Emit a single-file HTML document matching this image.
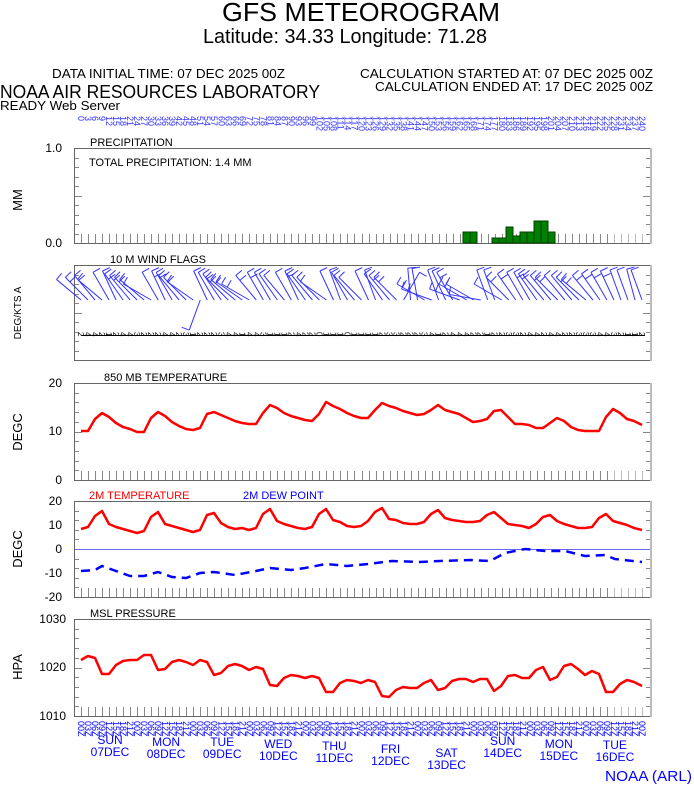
<!DOCTYPE html>
<html><head><meta charset="utf-8"><style>
html,body{margin:0;padding:0;background:#fff;}
svg{display:block;font-family:"Liberation Sans",sans-serif;}
</style></head><body>
<svg id="s" width="694" height="788" viewBox="0 0 694 788" xmlns="http://www.w3.org/2000/svg">
<rect width="694" height="788" fill="#fff"/>
<text x="222" y="21" font-size="26" textLength="278" lengthAdjust="spacingAndGlyphs">GFS METEOROGRAM</text>
<text x="203" y="43" font-size="20" textLength="284" lengthAdjust="spacingAndGlyphs">Latitude: 34.33 Longitude:  71.28</text>
<text x="52" y="78" font-size="13" textLength="233" lengthAdjust="spacingAndGlyphs">DATA INITIAL TIME: 07 DEC 2025 00Z</text>
<text x="360" y="78" font-size="13" textLength="293" lengthAdjust="spacingAndGlyphs">CALCULATION STARTED AT: 07 DEC 2025 00Z</text>
<text x="375" y="91" font-size="13" textLength="278" lengthAdjust="spacingAndGlyphs">CALCULATION ENDED AT: 17 DEC 2025 00Z</text>
<text x="0" y="98" font-size="18" textLength="320" lengthAdjust="spacingAndGlyphs">NOAA AIR RESOURCES LABORATORY</text>
<text x="0" y="110" font-size="13" textLength="120" lengthAdjust="spacingAndGlyphs">READY Web Server</text>
<text x="605" y="781" font-size="15" fill="#0000ff" textLength="87" lengthAdjust="spacingAndGlyphs">NOAA (ARL)</text>

<g id="frames" fill="none" stroke="#666" stroke-width="1">
<rect x="74.5" y="148.5" width="576" height="95"/>
<rect x="74.5" y="265.5" width="576" height="95"/>
<rect x="74.5" y="383.5" width="576" height="97"/>
<rect x="74.5" y="501.5" width="576" height="96"/>
<rect x="74.5" y="619.5" width="576" height="97"/>
</g>
<g id="ticks"></g>

<g font-size="11">
<text x="90" y="146">PRECIPITATION</text>
<text x="89" y="166">TOTAL PRECIPITATION:   1.4 MM</text>
<text x="110" y="263">10 M  WIND FLAGS</text>
<text x="104" y="381">850 MB  TEMPERATURE</text>
<text x="89" y="499" fill="#ff0000">2M TEMPERATURE</text>
<text x="243" y="499" fill="#0000ff">2M   DEW POINT</text>
<text x="90" y="617">MSL PRESSURE</text>
</g>
<g font-size="12" text-anchor="end">
<text x="62" y="152">1.0</text><text x="62" y="247">0.0</text>
<text x="62" y="387">20</text><text x="62" y="435">10</text><text x="62" y="484">0</text>
<text x="62" y="505">20</text><text x="62" y="529">10</text><text x="62" y="553">0</text><text x="62" y="577">-10</text><text x="62" y="601">-20</text>
<text x="66" y="623">1030</text><text x="66" y="671">1020</text><text x="66" y="720">1010</text>
</g>
<g font-size="13" text-anchor="middle">
<text transform="translate(22,200) rotate(-90)">MM</text>
<text transform="translate(21,313) rotate(-90)" font-size="10">DEG/KTS  A</text>
<text transform="translate(22,432) rotate(-90)">DEGC</text>
<text transform="translate(22,549) rotate(-90)">DEGC</text>
<text transform="translate(22,667) rotate(-90)">HPA</text>
</g>

<line x1="75" y1="549.5" x2="650" y2="549.5" stroke="#6666ff" stroke-width="1"/>

<g fill="#008000" stroke="#004000" stroke-width="1">
<rect x="463" y="232" width="7" height="11"/><rect x="470" y="232" width="7" height="11"/>
<rect x="492" y="238" width="7" height="5"/><rect x="499" y="238" width="7" height="5"/>
<rect x="506" y="227" width="7" height="16"/><rect x="513" y="236" width="7" height="7"/>
<rect x="520" y="232" width="7" height="11"/><rect x="527" y="232" width="7" height="11"/>
<rect x="534" y="221" width="7" height="22"/><rect x="541" y="221" width="7" height="22"/>
<rect x="548" y="232" width="7" height="11"/>
</g>

<polyline fill="none" stroke="#ff0000" stroke-width="2.5" stroke-linejoin="round" points="81,431 88,431 95,419 102,413 109,417 116,423 123,427 130,429 137,432 144,432 151,418 158,412 165,416 172,422 179,426 186,429 193,430 200,428 207,414 214,412 221,415 228,418 235,421 242,423 249,424 256,424 263,413 270,405 277,408 284,413 291,416 298,418 305,420 312,421 319,414 326,402 333,406 340,409 347,413 354,416 361,418 368,418 375,410 382,403 389,406 396,408 403,411 410,413 417,415 424,414 431,410 438,405 445,410 452,412 459,414 466,418 473,422 480,421 487,419 494,411 501,410 508,417 515,424 522,424 529,425 536,428 543,428 550,423 557,418 564,421 571,427 578,430 585,431 592,431 599,431 606,417 613,409 620,413 627,419 634,421 642,425"/>

<polyline fill="none" stroke="#ff0000" stroke-width="2.5" stroke-linejoin="round" points="81,529 88,527 95,516 102,511 109,524 116,527 123,529 130,531 137,533 144,531 151,517 158,512 165,524 172,526 179,528 186,530 193,532 200,530 207,515 214,513 221,523 228,527 235,529 242,528 249,530 256,528 263,514 270,509 277,521 284,524 291,526 298,528 305,529 312,527 319,514 326,509 333,520 340,522 347,526 354,527 361,526 368,521 375,512 382,508 389,519 396,520 403,523 410,524 417,524 424,522 431,514 438,510 445,518 452,520 459,521 466,522 473,522 480,521 487,515 494,512 501,518 508,524 515,525 522,526 529,528 536,524 543,517 550,515 557,521 564,524 571,526 578,528 585,528 592,527 599,518 606,514 613,521 620,523 627,525 634,528 642,530"/>

<polyline fill="none" stroke="#0000ff" stroke-width="2.5" stroke-dasharray="9,6" points="81,571 95,570 102,566 116,571 130,576 144,576 158,572 172,577 186,578 200,573 214,572 235,575 256,571 270,568 291,570 305,568 326,564 347,566 368,564 392,561 420,562 440,561 470,560 490,561 505,553 525,549 545,551 565,551 585,556 605,555 615,559 642,562"/>

<polyline fill="none" stroke="#ff0000" stroke-width="2.5" stroke-linejoin="round" points="81,660 88,656 95,658 102,674 109,674 116,665 123,661 130,660 137,660 144,655 151,655 158,670 165,669 172,662 179,660 186,662 193,665 200,660 207,662 214,675 221,673 228,666 235,664 242,666 249,670 256,667 263,669 270,685 277,686 284,678 291,675 298,676 305,678 312,676 319,678 326,692 333,692 340,683 347,680 354,681 361,683 368,680 375,682 382,696 389,697 396,690 403,687 410,688 417,688 424,683 431,680 438,690 445,688 452,681 459,679 466,679 473,682 480,679 487,679 494,691 501,686 508,676 515,675 522,678 529,678 536,670 543,667 550,680 557,677 564,666 571,664 578,669 585,675 592,671 599,674 606,692 613,692 620,684 627,680 634,682 642,686"/>

<g id="wind" stroke="#3333ff" stroke-width="1" fill="none"></g>
<line x1="81" y1="335.5" x2="645" y2="335.5" stroke="#000" stroke-width="1"/>
<g id="wnum" font-size="8"></g>
<g id="toplab" font-size="9" fill="#3333ff"></g>
<g id="botlab" font-size="9" fill="#0000ff"></g>
<g font-size="12" fill="#0000ff" text-anchor="middle" id="days"></g>
</svg>
<script>
var NS="http://www.w3.org/2000/svg";
function el(p,t,a,txt){var e=document.createElementNS(NS,t);for(var k in a)e.setAttribute(k,a[k]);if(txt!=null)e.textContent=txt;document.getElementById(p).appendChild(e);return e;}
var X=function(i){return 81+7.0125*i;};
var panels=[[148,243],[265,360],[383,480],[501,597],[619,716]];
panels.forEach(function(p,pi){
  for(var i=0;i<81;i++){var x=Math.round(X(i))+0.5;
    if(pi==1)continue;
    el("ticks","line",{x1:x,x2:x,y1:p[1]-9,y2:p[1],stroke:i>75?"#bbb":"#888","stroke-width":1});}
  var n=10;for(var j=1;j<n;j++){var y=Math.round(p[0]+(p[1]-p[0])*j/n)+0.5;
    el("ticks","line",{x1:75,x2:(j==5?82:79),y1:y,y2:y,stroke:"#888"});
    el("ticks","line",{x1:650,x2:(j==5?643:646),y1:y,y2:y,stroke:"#888"});}
  el("ticks","line",{x1:651,x2:651,y1:p[0],y2:p[1]+1,stroke:"#bbb","stroke-width":2});
});
for(var i=0;i<81;i++){var x=X(i);
  el("toplab","text",{transform:"translate("+(x-3)+",116) rotate(90)"},String(i*3));
  var h=(i*3)%24;el("botlab","text",{transform:"translate("+(x-3)+",721) rotate(90)"},(h<10?"0":"")+h+"Z");
}
var sp=[2,4,4,2,1,2,4,4,3,2,2,2,4,4,2,3,1,2,2,2,3,4,4,1,4,4,3,1,1,1,2,4,2,2,0,1,1,1,0,1,1,1,1,2,3,3,2,2,2,3,4,1,2,4,4,4,2,2,1,2,2,3,3,2,4,4,2,4,4,2,2,3,3,3,4,4,3,2,1,1,2];
for(var i=0;i<81;i++){el("wnum","text",{transform:"translate("+(X(i)-3)+",332) rotate(90)"},String(sp[i]));}
var ang=[-50,-45,-40,-50,-30,-25,-35,-40,-45,-50,-60,-30,-25,-30,-40,-45,-55,200,-25,-30,-35,-45,-50,-55,-60,-40,-30,-30,-35,-40,-30,-25,-35,-40,-45,-55,-25,-20,-30,-40,-45,-25,-20,-35,-40,-45,30,-5,-10,-60,-70,-20,-25,-30,-70,-60,-60,-80,-20,-20,-60,-45,-35,-30,-30,-35,-40,-40,-45,-40,-40,-45,-50,-40,-35,-30,-25,-20,-20,-15,-20];
for(var i=0;i<81;i++){var x=X(i),y=300,a=ang[i]*Math.PI/180,L=32;
  var x2=x+L*Math.sin(a),y2=y-L*Math.cos(a);
  el("wind","line",{x1:x,y1:y,x2:x2,y2:y2});
  var bx=Math.cos(a)*8,by=Math.sin(a)*8;
  el("wind","line",{x1:x2,y1:y2,x2:x2+bx,y2:y2+by});
  if(sp[i]>2){var mx=x+L*0.8*Math.sin(a),my=y-L*0.8*Math.cos(a);el("wind","line",{x1:mx,y1:my,x2:mx+bx,y2:my+by});}
}
var days=[["SUN","07DEC",744],["MON","08DEC",746],["TUE","09DEC",746],["WED","10DEC",748],["THU","11DEC",750],["FRI","12DEC",753],["SAT","13DEC",757],["SUN","14DEC",745],["MON","15DEC",748],["TUE","16DEC",749]];
days.forEach(function(d,k){var x=110+56.1*k;
  el("days","text",{x:x,y:d[2]},d[0]);el("days","text",{x:x,y:d[2]+12},d[1]);});
</script>
</body></html>
